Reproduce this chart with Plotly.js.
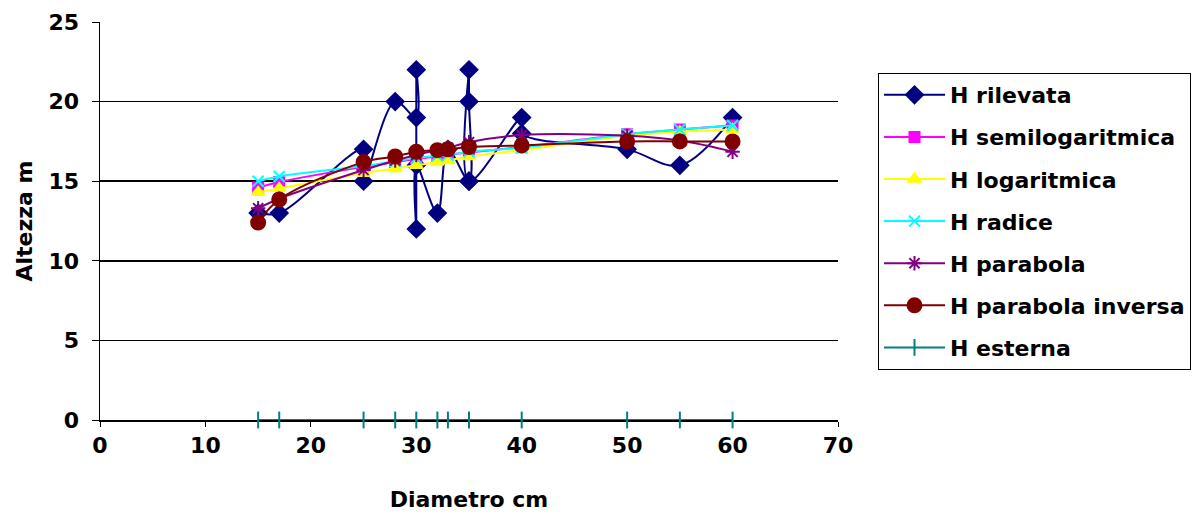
<!DOCTYPE html>
<html>
<head>
<meta charset="utf-8">
<script src="https://cdn.plot.ly/plotly-3.0.1.min.js"></script>
<style>
html,body{margin:0;padding:0;background:#fff;}
#chart{width:1194px;height:517px;}
</style>
</head>
<body>
<div id="chart"></div>
<script>
// Measured trees (diameter cm, height m) in drawing order
const diamRilevata = [15,17,25,25,28,30,30,30,30,32,33,35,35,35,35,40,40,50,55,60];
const hRilevata    = [13,13,17,15,20,19,22,12,16,13,17,15,20,22,15,19,18,17,16,19];

// Diameters at which the fitted models are drawn
const diamModel = [15,17,25,28,30,32,33,35,40,50,55,60];
const hSemilog   = [14.6,14.95,15.9,16.2,16.4,16.55,16.65,16.8,17.15,17.95,18.25,18.5];
const hLog       = [14.3,14.55,15.5,15.8,16.0,16.2,16.3,16.55,16.95,17.85,18.1,18.25];
const hRadice    = [15.0,15.3,15.95,16.25,16.45,16.6,16.65,16.85,17.1,17.95,18.25,18.5];
const hParabola  = [13.3,13.9,15.7,16.3,16.65,16.95,17.1,17.45,17.9,17.85,17.55,16.85];
const hParInv    = [12.4,13.85,16.2,16.55,16.85,16.95,17.0,17.15,17.25,17.5,17.5,17.5];

// External height marks (all on zero)
const diamEsterna = [15,17,25,28,30,32,33,35,40,50,55,60];
const hEsterna    = [0,0,0,0,0,0,0,0,0,0,0,0];

const seriesNames = ["H rilevata","H semilogaritmica","H logaritmica","H radice","H parabola","H parabola inversa","H esterna"];

const FONT = "DejaVu Sans, Verdana, sans-serif";

function tr(name, x, y, color, symbol, size, extra) {
  const t = {
    type: "scatter", mode: "lines+markers", name: name, x: x, y: y,
    line: {color: color, width: 2, shape: "spline", smoothing: 1},
    marker: {color: color, symbol: symbol, size: size, line: {color: color, width: 2}},
    legendgroup: name, cliponaxis: false
  };
  return Object.assign(t, extra || {});
}

const data = [
  tr(seriesNames[0], diamRilevata, hRilevata, "#000080", "diamond", 13),
  tr(seriesNames[1], diamModel, hSemilog, "#FF00FF", "square", 10),
  tr(seriesNames[2], diamModel, hLog, "#FFFF00", "triangle-up", 11),
  tr(seriesNames[3], diamModel, hRadice, "#00FFFF", "x-thin-open", 11),
  tr(seriesNames[4], diamModel, hParabola, "#800080", "asterisk-open", 12),
  tr(seriesNames[5], diamModel, hParInv, "#800000", "circle", 14),
  tr(seriesNames[6], diamEsterna, hEsterna, "#008080", "line-ns-open", 12)
];

const layout = {
  width: 1194, height: 517,
  paper_bgcolor: "#fff", plot_bgcolor: "#fff",
  margin: {l: 100, r: 356, t: 22, b: 97},
  font: {family: FONT, size: 22, color: "#000"},
  showlegend: true,
  legend: {
    xref: "container", yref: "container",
    x: 878 / 1194, y: 1 - 73 / 517, xanchor: "left", yanchor: "top",
    maxheight: 420,
    bordercolor: "#000", borderwidth: 1, bgcolor: "#fff",
    font: {family: FONT, size: 22, color: "#000", weight: "bold"},
    traceorder: "grouped", tracegroupgap: 10.5, itemwidth: 61
  },
  xaxis: {
    range: [0, 70], dtick: 10, tick0: 0,
    showgrid: false, zeroline: false,
    showline: true, linecolor: "#000", linewidth: 1.5,
    ticks: "outside", ticklen: 5, tickcolor: "#000",
    tickfont: {family: FONT, size: 22, weight: "bold"},
    title: {text: "Diametro cm", font: {family: FONT, size: 22, weight: "bold"}, standoff: 34},
    layer: "below traces", automargin: false
  },
  yaxis: {
    range: [0, 25], dtick: 5, tick0: 0,
    showgrid: true, gridcolor: "#000", gridwidth: 1.5,
    zeroline: false,
    showline: true, linecolor: "#000", linewidth: 1.5,
    ticks: "outside", ticklen: 7, tickcolor: "#000", ticklabelstandoff: 8,
    tickfont: {family: FONT, size: 22, weight: "bold"},
    title: {text: "Altezza m", font: {family: FONT, size: 22, weight: "bold"}, standoff: 10},
    layer: "below traces", automargin: false
  }
};

Plotly.newPlot("chart", data, layout, {displayModeBar: false, staticPlot: true});
</script>
</body>
</html>
